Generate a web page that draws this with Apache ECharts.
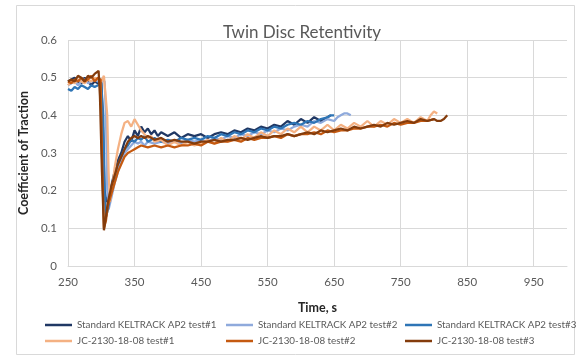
<!DOCTYPE html>
<html>
<head>
<meta charset="utf-8">
<script src="https://cdn.jsdelivr.net/npm/echarts@6/dist/echarts.min.js"></script>
<style>
  html, body { margin: 0; padding: 0; background: #fff; }
  #chart { width: 580px; height: 358px; }
</style>
</head>
<body>
<div id="chart"></div>
<script>
  // series names
  const seriesNames = [
    'Standard KELTRACK AP2 test#1',
    'Standard KELTRACK AP2 test#2',
    'Standard KELTRACK AP2 test#3',
    'JC-2130-18-08 test#1',
    'JC-2130-18-08 test#2',
    'JC-2130-18-08 test#3',
  ];
  const seriesColors = ['#203864', '#8faadc', '#2e75b6', '#f4b183', '#c55a11', '#843c0c'];

  // [time s, coefficient]
  const std1 = [[250,0.49],[255,0.495],[260,0.50],[265,0.49],[270,0.485],[275,0.50],[280,0.49],[285,0.48],[290,0.49],[295,0.485],[300,0.49],[302,0.40],[305,0.20],[308,0.17],[312,0.19],[316,0.22],[320,0.25],[325,0.28],[330,0.30],[335,0.33],[340,0.345],[345,0.33],[350,0.36],[355,0.345],[360,0.37],[365,0.355],[370,0.365],[375,0.35],[380,0.36],[385,0.345],[390,0.355],[400,0.345],[410,0.355],[420,0.34],[430,0.35],[440,0.345],[450,0.35],[460,0.34],[470,0.35],[480,0.355],[490,0.35],[500,0.36],[510,0.355],[520,0.365],[530,0.36],[540,0.37],[550,0.365],[560,0.375],[570,0.37],[580,0.385],[590,0.375],[600,0.39],[610,0.38],[620,0.395],[630,0.385],[640,0.395],[645,0.40]];
  const std2 = [[250,0.48],[255,0.485],[260,0.49],[265,0.48],[270,0.49],[275,0.495],[280,0.485],[285,0.49],[290,0.495],[295,0.49],[300,0.495],[305,0.49],[307,0.40],[309,0.20],[311,0.15],[315,0.18],[320,0.22],[325,0.25],[330,0.28],[335,0.30],[340,0.31],[345,0.32],[350,0.33],[355,0.325],[360,0.33],[365,0.32],[370,0.33],[380,0.325],[390,0.33],[400,0.325],[410,0.33],[420,0.325],[430,0.335],[440,0.33],[450,0.335],[460,0.33],[470,0.34],[480,0.335],[490,0.345],[500,0.34],[510,0.35],[520,0.345],[530,0.355],[540,0.35],[550,0.36],[560,0.355],[570,0.365],[580,0.36],[590,0.37],[600,0.375],[610,0.37],[620,0.385],[630,0.38],[640,0.39],[650,0.385],[655,0.395],[660,0.40],[665,0.405],[670,0.405],[675,0.40]];
  const std3 = [[250,0.47],[255,0.465],[260,0.475],[265,0.47],[270,0.48],[275,0.475],[280,0.47],[285,0.48],[290,0.475],[295,0.48],[300,0.485],[303,0.40],[305,0.20],[307,0.13],[310,0.15],[315,0.20],[320,0.24],[325,0.27],[330,0.29],[335,0.31],[340,0.32],[345,0.335],[350,0.33],[355,0.34],[360,0.335],[365,0.345],[370,0.33],[380,0.34],[390,0.33],[400,0.335],[410,0.33],[420,0.34],[430,0.335],[440,0.34],[450,0.335],[460,0.345],[470,0.34],[480,0.35],[490,0.345],[500,0.355],[510,0.35],[520,0.36],[530,0.355],[540,0.365],[550,0.36],[560,0.37],[570,0.365],[580,0.375],[590,0.38],[600,0.375],[610,0.385],[620,0.38],[630,0.39],[640,0.395],[645,0.40],[650,0.40]];
  const jc1 = [[250,0.48],[255,0.49],[260,0.485],[265,0.495],[270,0.49],[275,0.485],[280,0.495],[285,0.49],[290,0.50],[295,0.495],[300,0.49],[304,0.505],[307,0.50],[309,0.40],[311,0.25],[313,0.17],[316,0.20],[320,0.26],[325,0.31],[330,0.35],[335,0.38],[340,0.385],[345,0.37],[350,0.39],[355,0.375],[360,0.36],[365,0.35],[370,0.34],[375,0.345],[380,0.33],[390,0.335],[400,0.32],[410,0.33],[420,0.32],[430,0.33],[440,0.32],[450,0.325],[460,0.335],[470,0.325],[480,0.34],[490,0.33],[500,0.345],[510,0.335],[520,0.35],[530,0.34],[540,0.355],[550,0.345],[560,0.36],[570,0.35],[580,0.365],[590,0.355],[600,0.37],[610,0.355],[620,0.37],[630,0.36],[640,0.375],[650,0.36],[660,0.375],[670,0.365],[680,0.38],[690,0.37],[700,0.385],[710,0.37],[720,0.385],[730,0.375],[740,0.39],[750,0.38],[760,0.39],[770,0.38],[780,0.395],[790,0.385],[795,0.40],[800,0.41],[805,0.405]];
  const jc2 = [[250,0.49],[255,0.485],[260,0.495],[265,0.49],[270,0.50],[275,0.49],[280,0.495],[285,0.505],[290,0.49],[295,0.50],[299,0.495],[301,0.30],[304,0.10],[307,0.12],[310,0.16],[315,0.19],[320,0.22],[325,0.25],[330,0.27],[335,0.29],[340,0.30],[345,0.305],[350,0.31],[355,0.315],[360,0.32],[370,0.315],[380,0.32],[390,0.315],[400,0.32],[410,0.315],[420,0.32],[430,0.32],[440,0.325],[450,0.32],[460,0.33],[470,0.325],[480,0.33],[490,0.33],[500,0.335],[510,0.33],[520,0.34],[530,0.335],[540,0.34],[550,0.34],[560,0.345],[570,0.34],[580,0.35],[590,0.345],[600,0.35],[610,0.35],[620,0.355],[630,0.35],[640,0.36],[650,0.355],[660,0.36],[670,0.36],[680,0.365],[690,0.365],[700,0.37],[710,0.37],[720,0.375],[730,0.37],[740,0.38],[750,0.375],[760,0.38],[770,0.38],[780,0.385],[790,0.385],[800,0.39]];
  const jc3 = [[250,0.49],[255,0.495],[260,0.49],[265,0.505],[270,0.50],[275,0.49],[280,0.505],[285,0.50],[290,0.51],[293,0.505],[296,0.518],[298,0.45],[301,0.25],[304,0.095],[307,0.13],[310,0.17],[315,0.21],[320,0.24],[325,0.27],[330,0.29],[335,0.31],[340,0.33],[345,0.34],[350,0.345],[355,0.34],[360,0.345],[365,0.34],[370,0.345],[380,0.335],[390,0.34],[400,0.33],[410,0.335],[420,0.33],[430,0.33],[440,0.325],[450,0.33],[460,0.33],[470,0.335],[480,0.33],[490,0.335],[500,0.335],[510,0.34],[520,0.335],[530,0.34],[540,0.345],[550,0.34],[560,0.345],[570,0.345],[580,0.35],[590,0.345],[600,0.35],[610,0.355],[620,0.35],[630,0.36],[640,0.355],[650,0.36],[660,0.365],[670,0.36],[680,0.37],[690,0.365],[700,0.37],[710,0.375],[720,0.37],[730,0.38],[740,0.375],[750,0.38],[760,0.385],[770,0.38],[780,0.39],[790,0.385],[800,0.39],[805,0.385],[810,0.385],[815,0.39],[820,0.40]];
  const seriesData = [std1, std2, std3, jc1, jc2, jc3];

  const FONT = 'Lato, "Open Sans", sans-serif';
  const chart = echarts.init(document.getElementById('chart'), null, { renderer: 'canvas' });

  const legendBase = {
    orient: 'vertical',
    top: 315,
    itemGap: 6,
    itemWidth: 27,
    itemHeight: 2.5,
    icon: 'rect',
    selectedMode: false,
    textStyle: { fontFamily: FONT, fontSize: 9.8, color: '#595959' },
  };

  const option = {
    animation: false,
    backgroundColor: '#fff',
    title: {
      text: 'Twin Disc Retentivity',
      left: 218,
      top: 19,
      textStyle: { fontFamily: FONT, fontSize: 17, fontWeight: 'normal', color: '#595959' },
    },
    graphic: [
      {
        type: 'rect',
        shape: { x: 16.5, y: 5.5, width: 558, height: 349 },
        style: { fill: 'none', stroke: '#d9d9d9', lineWidth: 1 },
        silent: true,
        z: -1,
      },
    ],
    legend: [
      { ...legendBase, left: 40, data: [seriesNames[0], seriesNames[3]] },
      { ...legendBase, left: 221, data: [seriesNames[1], seriesNames[4]] },
      { ...legendBase, left: 400, data: [seriesNames[2], seriesNames[5]] },
    ],
    grid: { left: 68, right: 13, top: 40, bottom: 92 },
    xAxis: {
      type: 'value',
      min: 250,
      max: 1000,
      interval: 100,
      name: 'Time, s',
      nameLocation: 'middle',
      nameGap: 35,
      nameMoveOverlap: false,
      nameTextStyle: { fontFamily: FONT, fontSize: 12.5, fontWeight: 'bold', color: '#262626' },
      axisLine: { lineStyle: { color: '#d9d9d9' } },
      axisTick: { show: false },
      axisLabel: { showMaxLabel: false, margin: 10, fontFamily: FONT, fontSize: 11.5, color: '#595959' },
      splitLine: { showMaxLine: false, lineStyle: { color: '#d9d9d9' } },
    },
    yAxis: {
      type: 'value',
      min: 0,
      max: 0.6,
      interval: 0.1,
      name: 'Coefficient of Traction',
      nameLocation: 'middle',
      nameGap: 38,
      nameMoveOverlap: false,
      nameTextStyle: { fontFamily: FONT, fontSize: 12.5, fontWeight: 'bold', color: '#262626' },
      axisLine: { show: false },
      axisTick: { show: false },
      axisLabel: { margin: 11, fontFamily: FONT, fontSize: 11.5, color: '#595959' },
      splitLine: { lineStyle: { color: '#d9d9d9' } },
    },
    series: seriesNames.map((name, i) => ({
      name,
      type: 'line',
      data: seriesData[i],
      symbol: 'none',
      lineStyle: { width: 2.25, color: seriesColors[i] },
      itemStyle: { color: seriesColors[i] },
    })),
  };

  chart.setOption(option);
</script>
</body>
</html>
